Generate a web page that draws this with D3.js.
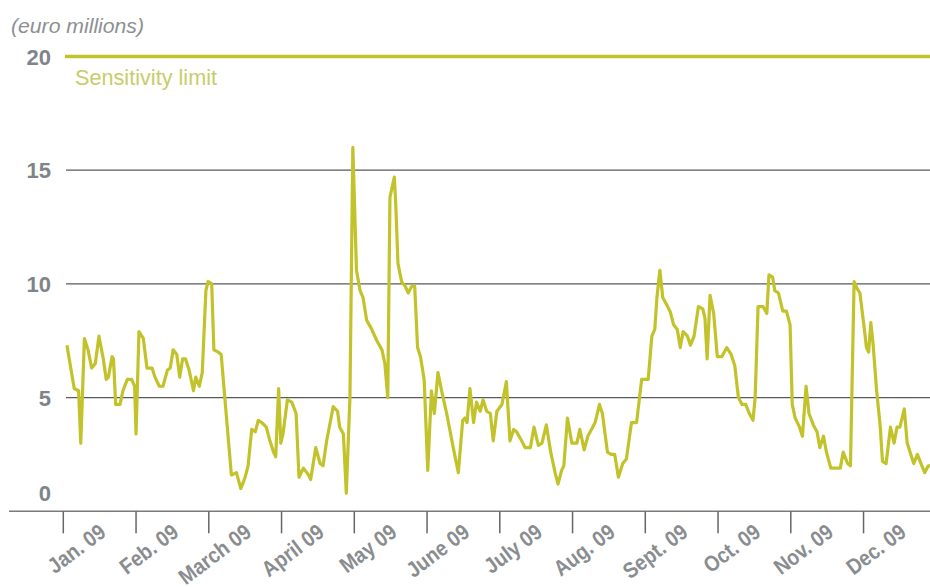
<!DOCTYPE HTML>
<html>
<head>
  <title>Sensitivity chart 2009</title>
  <script src="https://d3js.org/d3.v7.min.js"></script>
  <style>
    body { margin: 0; background: #fff; }
    svg text { font-family: "Liberation Sans", Arial, sans-serif; }
  </style>
</head>
<body>
  <script>
    // month labels and y ticks
    var months = ["Jan. 09", "Feb. 09", "March 09", "April 09", "May 09", "June 09",
                  "July 09", "Aug. 09", "Sept. 09", "Oct. 09", "Nov. 09", "Dec. 09"];
    var yTicks = [0, 5, 10, 15, 20];
    var limit = 20;

    // position in months since Jan 1 (0 = start of Jan.)
    var pos = [0.05,0.15,0.21,0.24,0.29,0.34,0.39,0.44,0.49,0.55,0.59,0.62,0.67,0.69,0.72,0.78,0.82,0.88,0.94,0.98,
      1.00,1.04,1.10,1.15,1.22,1.26,1.32,1.37,1.43,1.47,1.51,1.56,1.60,1.64,1.68,1.73,1.79,1.82,1.87,1.91,1.96,1.99,
      2.04,2.07,2.13,2.17,2.22,2.31,2.38,2.44,2.50,2.54,2.59,2.64,2.68,2.73,2.79,2.84,2.89,2.92,2.96,2.99,
      3.02,3.08,3.14,3.20,3.24,3.30,3.37,3.40,3.47,3.53,3.57,3.62,3.71,3.77,3.80,3.85,3.89,3.94,3.98,
      4.03,4.08,4.12,4.17,4.24,4.31,4.38,4.42,4.46,4.49,4.55,4.57,4.60,4.65,4.70,4.74,4.79,4.83,4.87,4.91,4.96,
      5.01,5.06,5.10,5.15,5.20,5.27,5.36,5.43,5.49,5.52,5.55,5.59,5.64,5.68,5.73,5.77,5.82,5.87,5.91,5.96,
      6.03,6.09,6.14,6.19,6.23,6.30,6.35,6.42,6.47,6.53,6.58,6.64,6.70,6.76,6.80,6.85,6.88,6.93,6.99,
      7.06,7.10,7.16,7.21,7.26,7.31,7.37,7.41,7.48,7.53,7.58,7.63,7.69,7.74,7.81,7.88,7.95,
      8.04,8.09,8.13,8.16,8.20,8.24,8.29,8.34,8.39,8.44,8.48,8.52,8.58,8.62,8.67,8.73,8.79,8.82,8.85,8.89,8.94,8.99,
      9.05,9.12,9.18,9.23,9.28,9.33,9.38,9.43,9.48,9.51,9.55,9.62,9.67,9.70,9.75,9.78,9.83,9.89,9.94,9.99,
      10.02,10.06,10.12,10.16,10.21,10.25,10.31,10.36,10.40,10.45,10.49,10.55,10.61,10.68,10.72,10.78,10.82,10.87,10.91,10.95,
      11.00,11.04,11.07,11.10,11.13,11.18,11.23,11.26,11.31,11.37,11.42,11.46,11.50,11.56,11.60,11.65,11.69,11.74,11.79,11.84,11.89,11.93];

    // value in euro millions
    var val = [7.3,5.4,5.3,3.0,7.6,7.1,6.3,6.5,7.7,6.7,5.8,5.9,6.8,6.7,4.7,4.7,5.3,5.8,5.8,5.5,
      3.4,7.9,7.6,6.3,6.3,5.9,5.5,5.5,6.2,6.3,7.1,6.9,5.9,6.7,6.7,6.2,5.3,5.9,5.5,6.1,9.7,10.1,
      10.0,7.1,7.0,6.9,5.0,1.6,1.7,1.0,1.5,2.0,3.6,3.5,4.0,3.9,3.7,3.1,2.6,2.4,5.4,3.0,
      3.4,4.9,4.8,4.3,1.5,1.9,1.6,1.4,2.8,2.1,2.0,3.1,4.6,4.4,3.7,3.4,0.8,5.0,16.0,
      10.6,9.7,9.4,8.4,8.0,7.5,7.1,6.5,5.0,13.8,14.7,13.5,10.9,10.1,9.9,9.6,9.9,9.9,7.2,6.8,5.8,
      1.8,5.3,4.3,6.1,5.3,4.3,2.8,1.7,4.0,4.1,3.9,5.4,3.9,4.8,4.4,4.9,4.4,4.3,3.1,4.4,
      4.7,5.7,3.1,3.6,3.5,3.1,2.8,2.8,3.7,2.9,3.0,3.8,2.6,1.7,1.2,1.8,2.0,4.1,3.0,
      3.0,3.6,2.7,3.3,3.6,3.9,4.7,4.3,2.6,2.5,2.5,1.5,2.1,2.3,3.9,3.9,5.8,
      5.8,7.7,8.0,9.4,10.6,9.4,9.1,8.8,8.2,8.0,7.2,7.9,7.7,7.3,7.7,9.0,8.9,8.5,6.7,9.5,8.7,6.8,
      6.8,7.2,6.9,6.4,5.0,4.7,4.7,4.3,4.0,5.0,9.0,9.0,8.7,10.4,10.3,9.7,9.6,8.8,8.8,8.2,
      4.7,4.1,3.7,3.3,5.5,4.3,3.8,3.5,2.8,3.3,2.6,1.9,1.9,1.9,2.6,2.1,2.0,10.1,9.8,9.6,
      8.3,7.2,7.0,8.3,7.4,5.3,3.7,2.2,2.1,3.7,3.0,3.7,3.7,4.5,3.0,2.5,2.1,2.5,2.1,1.7,2.0,2.0];

    var width = 930, height = 587;
    var lineColor = "#c2c32a";

    var svg = d3.select("body").append("svg")
      .attr("width", width)
      .attr("height", height);

    var x = d3.scaleLinear().domain([0, 12]).range([63.3, 936.3]);
    var y = d3.scaleLinear().domain([0, 20]).range([511.3, 56.5]);

    // y axis title
    svg.append("text")
      .attr("x", 11).attr("y", 33)
      .attr("textLength", 133).attr("lengthAdjust", "spacingAndGlyphs")
      .style("font-size", "21px").style("font-style", "italic")
      .style("fill", "#8c8f93")
      .text("(euro millions)");

    // grid lines (5, 10, 15)
    svg.selectAll(".grid")
      .data(yTicks.filter(function(d) { return d > 0 && d < limit; }))
      .enter().append("line")
      .attr("x1", 66).attr("x2", width)
      .attr("y1", function(d) { return y(d); })
      .attr("y2", function(d) { return y(d); })
      .style("stroke", "#5a5a5a").style("stroke-width", 1.3);

    // y tick labels
    svg.selectAll(".ylab")
      .data(yTicks)
      .enter().append("text")
      .attr("x", 51)
      .attr("y", function(d) { return d === 0 ? y(0) - 10 : y(d) + 8; })
      .attr("text-anchor", "end")
      .style("font-size", "22px").style("font-weight", "bold")
      .style("fill", "#7f848a")
      .text(function(d) { return d; });

    // sensitivity limit
    svg.append("line")
      .attr("x1", 65).attr("x2", width)
      .attr("y1", y(limit)).attr("y2", y(limit))
      .style("stroke", lineColor).style("stroke-width", 3.5);

    svg.append("text")
      .attr("x", 75).attr("y", 85)
      .attr("textLength", 142).attr("lengthAdjust", "spacingAndGlyphs")
      .style("font-size", "22px")
      .style("fill", "#c8cc6a")
      .text("Sensitivity limit");

    // x axis
    svg.append("line")
      .attr("x1", 9).attr("x2", width)
      .attr("y1", y(0)).attr("y2", y(0))
      .style("stroke", "#7a7a7a").style("stroke-width", 1.5);

    svg.selectAll(".tick")
      .data(months)
      .enter().append("line")
      .attr("x1", function(d, i) { return x(i); })
      .attr("x2", function(d, i) { return x(i); })
      .attr("y1", y(0)).attr("y2", y(0) + 22)
      .style("stroke", "#666").style("stroke-width", 1.5);

    // condensed, slightly taller month labels
    svg.selectAll(".mlab")
      .data(months)
      .enter().append("text")
      .attr("text-anchor", "end")
      .attr("transform", function(d, i) {
        return "translate(" + (x(i) + 44) + "," + 535 + ") rotate(-37) scale(0.88,1)";
      })
      .style("font-size", "22px").style("font-weight", "bold")
      .style("fill", "#8a8d90")
      .text(function(d) { return d; });

    // data line
    var data = pos.map(function(p, i) { return { p: p, v: val[i] }; });
    var line = d3.line()
      .x(function(d) { return x(d.p); })
      .y(function(d) { return y(d.v); });

    svg.append("path")
      .datum(data)
      .attr("d", line)
      .style("fill", "none")
      .style("stroke", lineColor)
      .style("stroke-width", 3.2)
      .style("stroke-linejoin", "round");
  </script>
</body>
</html>
